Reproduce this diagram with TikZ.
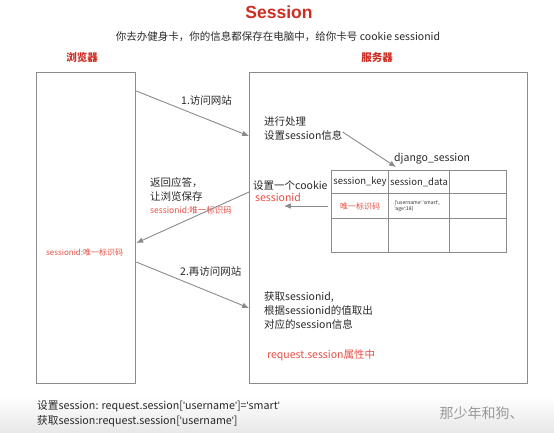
\documentclass[tikz,border=0pt]{standalone}
\usepackage{fontspec}
\setmainfont{Noto Sans CJK SC}
\newfontfamily\titlefont{Liberation Sans}
\usetikzlibrary{positioning,arrows.meta,calc}
\definecolor{sesred}{RGB}{205,45,35}
\definecolor{seslight}{RGB}{232,78,68}
\definecolor{sesgray}{RGB}{138,138,143}
\definecolor{sestext}{RGB}{40,40,40}
\newcommand{\sq}{{\titlefont'}}
\tikzset{
  panel/.style={draw=sesgray, line width=1.3pt, anchor=north west, minimum width=#1, minimum height=311},
  flow/.style={-{Latex[length=2.4mm,width=2mm]}, sesgray, line width=0.9pt},
  note/.style={anchor=west, align=left, inner sep=0pt, text=sestext, font=\fontsize{10.5}{14}\selectfont},
  rednote/.style={note, text=seslight},
  head/.style={text=sesred, font=\bfseries\fontsize{10.5}{12}\selectfont},
  cell/.style={draw=sesgray, line width=1pt, anchor=north west, inner sep=0pt}
}
\begin{document}
\begin{tikzpicture}[x=1pt, y=-1pt]
    \useasboundingbox (0,0) rectangle (554,432);
    \shade[top color=white, bottom color=black!9] (0,396) rectangle (554,432);
    % titles
    \node[text=sesred, font=\titlefont\bfseries\fontsize{17.5}{18}\selectfont] (title) at (279,12) {Session};
    \node[text=sestext, font=\fontsize{10.5}{12}\selectfont] (sub) at (278,37) {你去办健身卡，你的信息都保存在电脑中，给你卡号 cookie sessionid};
    \node[head] (bhead) at (82,58) {浏览器};
    \node[head] (shead) at (377,58) {服务器};
    % browser and server
    \node[panel=99] (browser) at (36,72) {};
    \node[panel=278] (server) at (249,72) {};
    \node[rednote, font=\fontsize{8}{10}\selectfont] (bid) at (46,252) {sessionid:唯一标识码};
    % server notes
    \node[note] (proc) at (264,129) {进行处理\\设置session信息};
    \node[note] (django) at (394,159) {django\_session};
    \node[note] (setck) at (253,186) {设置一个cookie};
    \node[rednote, below=0pt of setck.south west, anchor=north west, yshift=-2pt, xshift=2pt] (sid) {sessionid};
    \node[note] (fetch) at (264,311) {获取sessionid,\\根据sessionid的值取出\\对应的session信息};
    \node[rednote] (attr) at (267,355) {request.session属性中};
    % table django_session
    \foreach \c/\cx/\w in {1/331/57,2/388/61,3/449/57}{
      \foreach \r/\ry/\h in {1/170/23,2/193/25,3/218/34}{
        \node[cell, minimum width=\w, minimum height=\h] (c\r\c) at (\cx,\ry) {};
      }
    }
    \node[font=\fontsize{9.5}{10}\selectfont, text=sestext] (kkey) at (c11) {session\_key};
    \node[font=\fontsize{9.5}{10}\selectfont, text=sestext] (kdata) at (c12) {session\_data};
    \node[font=\fontsize{8}{10}\selectfont, text=seslight] (vkey) at (c21) {唯一标识码};
    \node[font=\fontsize{5}{6.5}\selectfont, text=sestext, align=left, anchor=west] (vdata) at ($(c22.west)+(3,0)$) {\{\sq username\sq:\sq smart\sq,\\\sq age\sq:18\}};
    % flow labels
    \node[note] (l1) at (181,101) {1.访问网站};
    \node[note] (back) at (150,189) {返回应答，\\让浏览保存};
    \node[rednote, font=\fontsize{8.5}{10}\selectfont] (backid) at (150,210) {sessionid:唯一标识码};
    \node[note] (l2) at (180,272) {2.再访问网站};
    % connectors
    \coordinate (go1) at ($(browser.north east)+(0,19)$);
    \coordinate (in1) at ($(server.north west)+(0,64)$);
    \coordinate (out1) at ($(server.north west)+(0,120)$);
    \coordinate (ret1) at ($(browser.north east)+(0,171)$);
    \coordinate (go2) at ($(browser.north east)+(0,190)$);
    \coordinate (in2) at ($(server.north west)+(0,236)$);
    \coordinate (tab) at ($(c11.north east)+(7,-3)$);
    \coordinate (cki) at ($(c21.west)+(-47,0)$);
    \draw[flow] (go1) -- (in1);
    \draw[flow] ($(proc.east)+(0,3)$) -- (tab);
    \draw[flow] ($(c21.west)+(-3,0)$) -- (cki);
    \draw[flow] (out1) -- (ret1);
    \draw[flow] (go2) -- (in2);
    % signature
    \node[text=black!40, font=\fontsize{14}{14}\selectfont, anchor=west] (mark) at (436,413) {那少年和狗、};
    % bottom notes
    \node[note, font=\fontsize{10.7}{15}\selectfont] (code) at (37,414) {设置session: request.session[\sq username\sq]=\sq smart\sq\\获取session:request.session[\sq username\sq]};
\end{tikzpicture}
\end{document}
